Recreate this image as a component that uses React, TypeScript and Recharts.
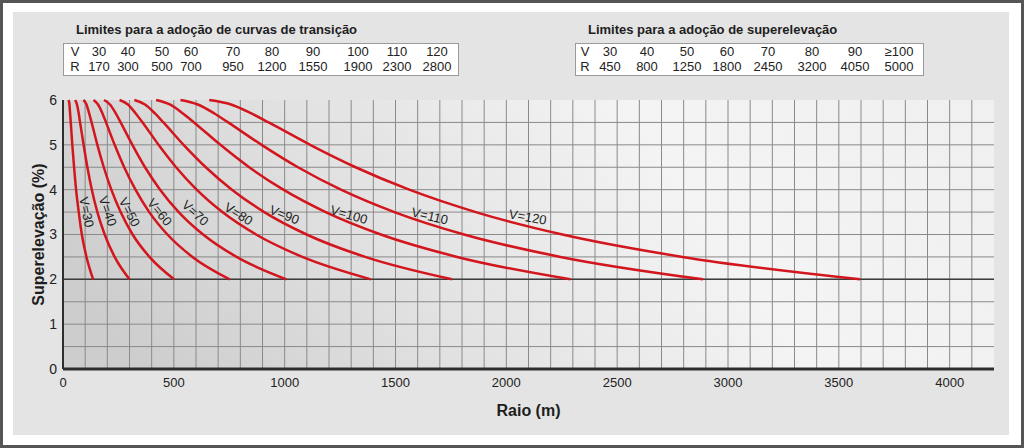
import {
  LineChart,
  Line,
  XAxis,
  YAxis,
  CartesianGrid,
  ReferenceLine,
  ReferenceDot
} from "recharts";

// superelevation levels (%) at which each curve was read
const superelevation = [6, 5.9, 5.7, 5.5, 5, 4.5, 4, 3.5, 3, 2.5, 2];

// radius (m) at the levels above
const raioV30 = [25, 29, 32, 35, 42, 50, 59, 71, 85, 106, 136];
const raioV40 = [55, 63, 71, 77, 93, 110, 130, 155, 188, 233, 300];
const raioV50 = [92, 106, 118, 129, 155, 184, 218, 260, 314, 390, 501];
const raioV60 = [138, 158, 178, 194, 233, 276, 327, 389, 471, 584, 752];
const raioV70 = [185, 212, 238, 260, 313, 370, 438, 522, 632, 783, 1008];
const raioV80 = [255, 293, 328, 359, 431, 510, 603, 719, 871, 1080, 1389];
const raioV90 = [322, 370, 415, 453, 544, 644, 762, 908, 1099, 1363, 1755];
const raioV100 = [420, 482, 541, 591, 710, 840, 994, 1185, 1434, 1778, 2289];
const raioV110 = [530, 608, 683, 745, 896, 1060, 1254, 1495, 1809, 2244, 2888];
const raioV120 = [660, 758, 850, 928, 1115, 1320, 1562, 1862, 2253, 2794, 3596];

const speeds = [30, 40, 50, 60, 70, 80, 90, 100, 110, 120];
const raios = [raioV30, raioV40, raioV50, raioV60, raioV70, raioV80, raioV90, raioV100, raioV110, raioV120];

const xTicks = [0, 500, 1000, 1500, 2000, 2500, 3000, 3500, 4000];
const yTicks = [0, 1, 2, 3, 4, 5, 6];

// tables on top
const transitionV = ["V", "30", "40", "50", "60", "70", "80", "90", "100", "110", "120"];
const transitionR = ["R", "170", "300", "500", "700", "950", "1200", "1550", "1900", "2300", "2800"];
const superV = ["V", "30", "40", "50", "60", "70", "80", "90", "≥100"];
const superR = ["R", "450", "800", "1250", "1800", "2450", "3200", "4050", "5000"];

// layout
const transitionCols = [75, 99, 128, 162, 191, 233, 272, 313, 358, 397, 437];
const superCols = [585, 610, 647, 687, 727, 768, 812, 855, 899];
// where each "V=.." label sits (data units) and its rotation
const labelSpots = [
  { r: 106, e: 3.5, angle: 78 },
  { r: 202, e: 3.52, angle: 71 },
  { r: 300, e: 3.5, angle: 63 },
  { r: 436, e: 3.5, angle: 51 },
  { r: 597, e: 3.48, angle: 42 },
  { r: 792, e: 3.46, angle: 32 },
  { r: 999, e: 3.44, angle: 22 },
  { r: 1290, e: 3.44, angle: 16 },
  { r: 1655, e: 3.41, angle: 13 },
  { r: 2097, e: 3.39, angle: 10 }
];

const gridX = Array.from({ length: 41 }, (_, i) => (i + 1) * 100);
const gridY = Array.from({ length: 11 }, (_, i) => (i + 1) * 0.5);
const minorX = Array.from({ length: 421 }, (_, i) => i * 10);
const midX = Array.from({ length: 42 }, (_, i) => i * 100 + 50);
const minorY = Array.from({ length: 61 }, (_, i) => i / 10);

const series = speeds.map((v, i) => ({
  v,
  points: raios[i].map((r, j) => ({ r, e: superelevation[j] }))
}));

const font = "'Liberation Sans', Arial, Helvetica, sans-serif";
const frame = "#2e2e2e";

function Table({ left, width, title, rows, cols }: { left: number; width: number; title: string; rows: string[][]; cols: number[] }) {
  return (
    <>
      <div style={{ position: "absolute", left: left + 13, top: 22, fontSize: 13, fontWeight: 700, color: "#1e1e1e", whiteSpace: "nowrap" }}>
        {title}
      </div>
      <div
        style={{
          position: "absolute",
          left,
          top: 43,
          width,
          height: 31,
          background: "#fff",
          border: "1px solid #9a9a9a"
        }}
      />
      {rows.map((row, ri) =>
        row.map((cell, ci) => (
          <span
            key={`${ri}-${ci}`}
            style={{
              position: "absolute",
              left: cols[ci] - 25,
              width: 50,
              top: 44 + ri * 15,
              textAlign: "center",
              fontSize: 13,
              color: "#222",
              lineHeight: "15px"
            }}
          >
            {cell}
          </span>
        ))
      )}
    </>
  );
}

function rulerX(id: string, orientation: "top" | "bottom", ticks: number[], size: number, line?: object) {
  return (
    <XAxis
      xAxisId={id}
      orientation={orientation}
      dataKey="r"
      type="number"
      domain={[0, 4200]}
      ticks={ticks}
      interval={0}
      height={0}
      mirror
      axisLine={line ?? false}
      tick={false}
      tickSize={size}
      tickLine={{ stroke: frame }}
    />
  );
}

export default function App() {
  return (
    <div
      style={{
        position: "absolute",
        left: 0,
        top: 0,
        width: 1024,
        height: 448,
        background: "#fff",
        boxShadow: "inset 0 0 0 3px #555",
        fontFamily: font,
        overflow: "hidden"
      }}
    >
      <div style={{ position: "absolute", left: 13, top: 12, width: 996, height: 423, background: "#e4e4e4" }} />

      <Table left={63} width={394} title="Limites para a adoção de curvas de transição" rows={[transitionV, transitionR]} cols={transitionCols} />
      <Table left={575} width={347} title="Limites para a adoção de superelevação" rows={[superV, superR]} cols={superCols} />

      <div style={{ position: "absolute", left: 0, top: 0 }}>
        <LineChart
          width={1024}
          height={448}
          margin={{ top: 100, right: 30, bottom: 49, left: 13 }}
          style={{ fontFamily: font }}
        >
          <defs>
            <linearGradient id="plotBg" x1="0" y1="0.6" x2="1" y2="0.4">
              <stop offset="0%" stopColor="#cdcdcd" />
              <stop offset="35%" stopColor="#e2e2e2" />
              <stop offset="70%" stopColor="#f4f4f4" />
              <stop offset="100%" stopColor="#f0f0f0" />
            </linearGradient>
          </defs>

          <CartesianGrid
            xAxisId="x"
            yAxisId="y"
            fill="url(#plotBg)"
            fillOpacity={1}
            stroke="#8a8a8a"
            strokeWidth={1}
            verticalValues={gridX}
            horizontalValues={gridY}
          />

          <XAxis
            xAxisId="x"
            dataKey="r"
            type="number"
            domain={[0, 4200]}
            ticks={xTicks}
            allowDataOverflow
            height={30}
            axisLine={{ stroke: frame, strokeWidth: 3 }}
            tickLine={false}
            tickSize={5}
            tickMargin={4}
            interval={0}
            tick={{ fontSize: 13, fill: "#222" }}
            label={{ value: "Raio (m)", position: "bottom", offset: 6, fontSize: 16, fontWeight: 700, fill: "#1e1e1e" }}
          />
          {rulerX("xb", "bottom", minorX, 2)}
          {rulerX("xbm", "bottom", midX, 5)}
          {rulerX("xt", "top", minorX, 2, { stroke: frame, strokeWidth: 2 })}
          {rulerX("xtm", "top", midX, 5)}

          <YAxis
            yAxisId="y"
            type="number"
            domain={[0, 6]}
            ticks={yTicks}
            width={50}
            axisLine={{ stroke: frame, strokeWidth: 2 }}
            tickLine={false}
            tickSize={4}
            tickMargin={2}
            interval={0}
            tick={{ fontSize: 14, fill: "#222" }}
            label={{ value: "Superelevação (%)", angle: -90, position: "center", fontSize: 16, fontWeight: 700, fill: "#1e1e1e" }}
          />
          <YAxis
            yAxisId="yl"
            type="number"
            domain={[0, 6]}
            ticks={minorY}
            interval={0}
            width={0}
            mirror
            axisLine={false}
            tick={false}
            tickSize={3}
            tickLine={{ stroke: frame }}
          />
          <YAxis
            yAxisId="yr"
            orientation="right"
            type="number"
            domain={[0, 6]}
            ticks={minorY}
            interval={0}
            width={0}
            mirror
            axisLine={{ stroke: frame, strokeWidth: 3 }}
            tick={false}
            tickSize={3}
            tickLine={{ stroke: frame }}
          />

          <ReferenceLine xAxisId="x" yAxisId="y" y={2} stroke="#3c3c3c" strokeWidth={1.5} />

          {series.map((s) => (
            <Line
              key={s.v}
              xAxisId="x"
              yAxisId="y"
              data={s.points}
              dataKey="e"
              type="monotone"
              stroke="#d3151d"
              strokeWidth={2.5}
              dot={false}
              activeDot={false}
              isAnimationActive={false}
            />
          ))}

          {series.map((s, i) => (
            <ReferenceDot
              key={`lbl-${s.v}`}
              xAxisId="x"
              yAxisId="y"
              x={labelSpots[i].r}
              y={labelSpots[i].e}
              r={0}
              shape={(p: any) => (
                <text
                  x={p.cx}
                  y={p.cy}
                  transform={`rotate(${labelSpots[i].angle}, ${p.cx}, ${p.cy})`}
                  textAnchor="middle"
                  dominantBaseline="central"
                  fontSize={13}
                  fill="#1e1e1e"
                >
                  {`V=${s.v}`}
                </text>
              )}
            />
          ))}
        </LineChart>
      </div>
    </div>
  );
}
